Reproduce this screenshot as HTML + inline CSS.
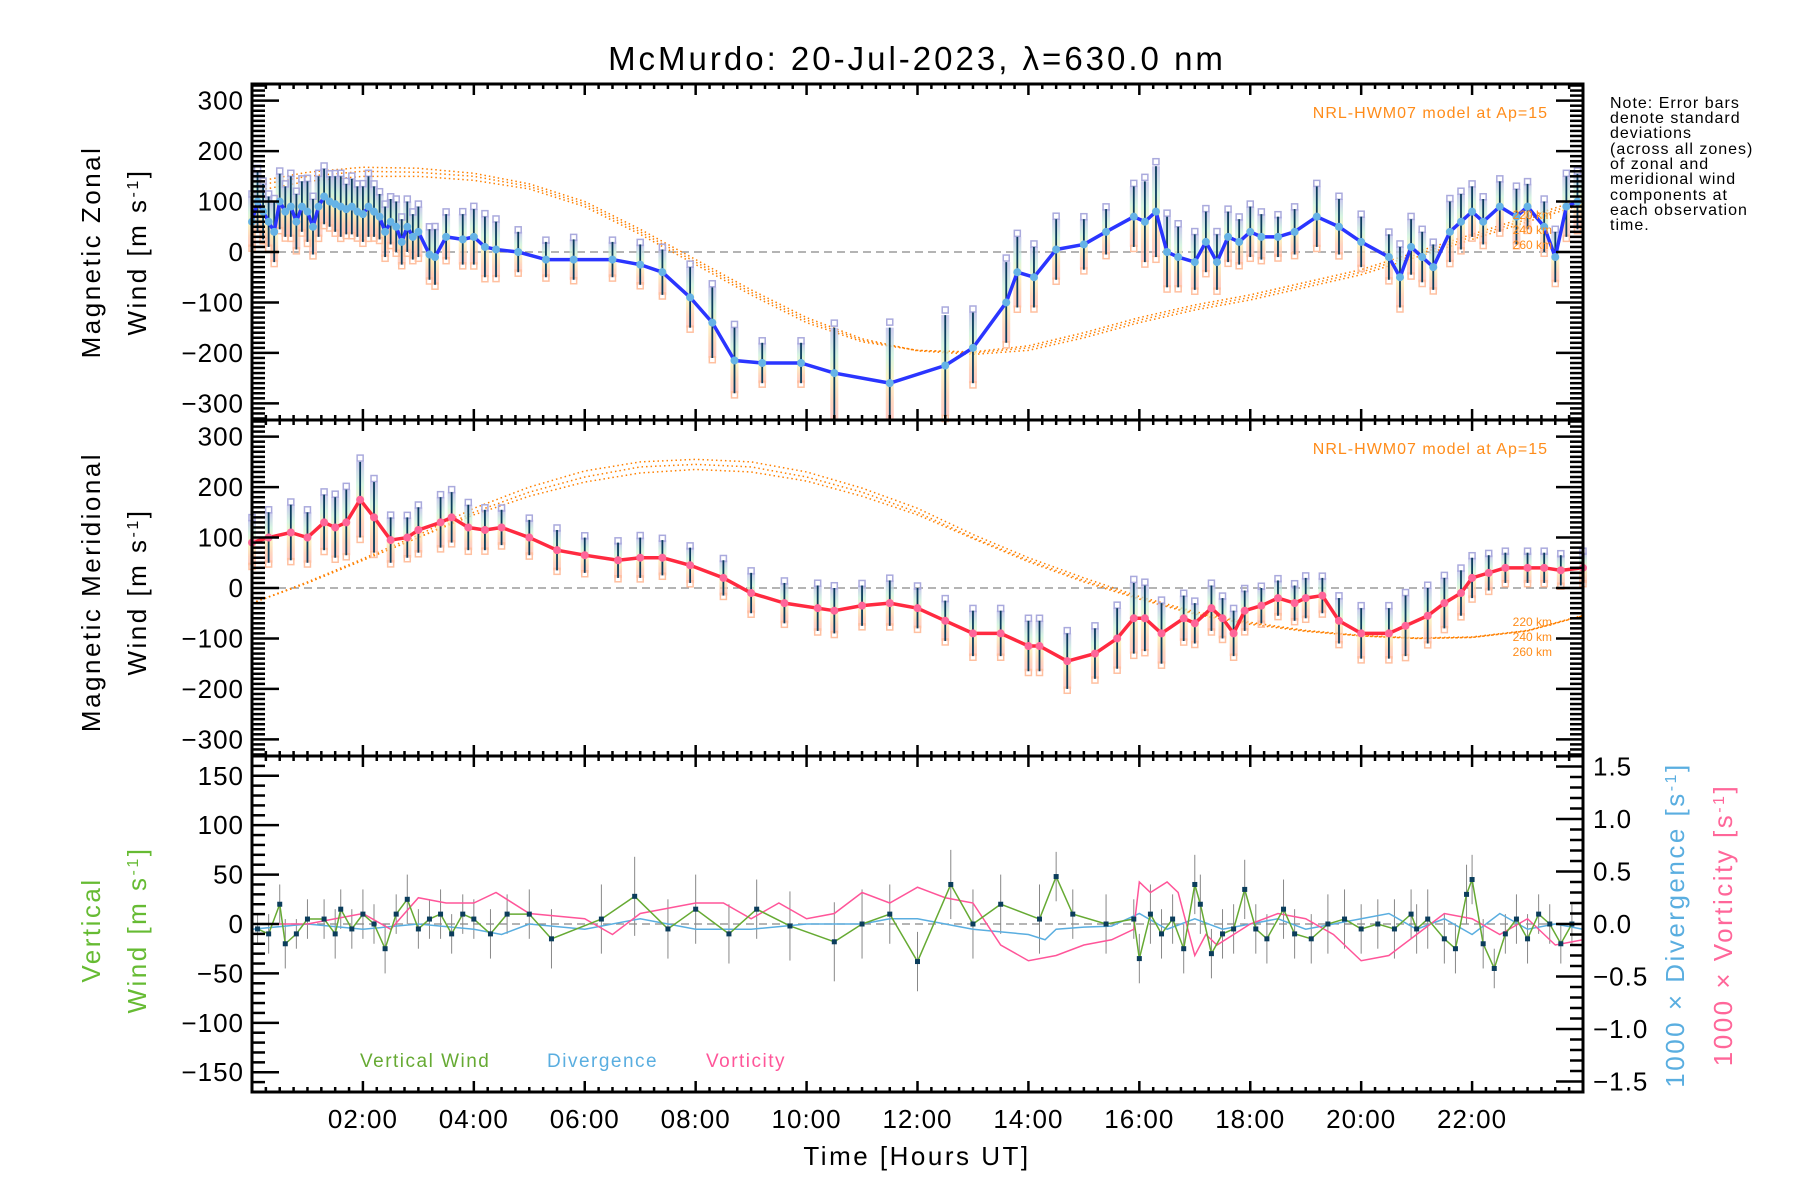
<!DOCTYPE html>
<html><head><meta charset="utf-8"><title>McMurdo winds</title>
<style>
html,body{margin:0;padding:0;background:#fff;}
svg{display:block;font-family:"Liberation Sans","DejaVu Sans",sans-serif;}
</style></head>
<body>
<svg id="chart" width="1800" height="1200" viewBox="0 0 1800 1200" xmlns="http://www.w3.org/2000/svg">
<defs>
<linearGradient id="rainbow" x1="0" y1="0" x2="0" y2="1">
<stop offset="0" stop-color="#b8b8e8"/><stop offset="0.3" stop-color="#c8f0d8"/><stop offset="0.55" stop-color="#f8f0b0"/><stop offset="0.8" stop-color="#ffc8a8"/><stop offset="1" stop-color="#ffb8b0"/>
</linearGradient>
</defs>
<text x="917" y="70" font-size="33" letter-spacing="3" text-anchor="middle">McMurdo: 20-Jul-2023, λ=630.0 nm</text>
<g id="p1"></g>
<g id="p2"></g>
<g id="p3"></g>
<g id="axes"></g>
<g font-size="26" letter-spacing="2.5" text-anchor="middle">
<text transform="translate(100,252) rotate(-90)">Magnetic Zonal</text>
<text transform="translate(146,252) rotate(-90)">Wind [m s<tspan baseline-shift="super" font-size="16">-1</tspan>]</text>
<text transform="translate(100,592) rotate(-90)">Magnetic Meridional</text>
<text transform="translate(146,592) rotate(-90)">Wind [m s<tspan baseline-shift="super" font-size="16">-1</tspan>]</text>
<text transform="translate(100,930) rotate(-90)" fill="#66bb33">Vertical</text>
<text transform="translate(146,930) rotate(-90)" fill="#66bb33">Wind [m s<tspan baseline-shift="super" font-size="16">-1</tspan>]</text>
<text transform="translate(1684,925) rotate(-90)" fill="#5aaee0">1000 × Divergence [s<tspan baseline-shift="super" font-size="16">-1</tspan>]</text>
<text transform="translate(1732,925) rotate(-90)" fill="#ff6699">1000 × Vorticity [s<tspan baseline-shift="super" font-size="16">-1</tspan>]</text>
<text x="917" y="1165">Time [Hours UT]</text>
</g>
<g font-size="16" letter-spacing="1">
<text x="1610" y="108">Note: Error bars</text>
<text x="1610" y="123">denote standard</text>
<text x="1610" y="138">deviations</text>
<text x="1610" y="154">(across all zones)</text>
<text x="1610" y="169">of zonal and</text>
<text x="1610" y="184">meridional wind</text>
<text x="1610" y="200">components at</text>
<text x="1610" y="215">each observation</text>
<text x="1610" y="230">time.</text>
</g>
<text x="1548" y="118" font-size="16" letter-spacing="1" fill="#ff8c1a" text-anchor="end">NRL-HWM07 model at Ap=15</text>
<text x="1548" y="454" font-size="16" letter-spacing="1" fill="#ff8c1a" text-anchor="end">NRL-HWM07 model at Ap=15</text>
<g font-size="12" fill="#ff8c1a" text-anchor="end">
<text x="1552" y="626">220 km</text><text x="1552" y="641">240 km</text><text x="1552" y="656">260 km</text>
<text x="1552" y="219">220 km</text><text x="1552" y="234">240 km</text><text x="1552" y="249">260 km</text>
</g>
<g font-size="19" letter-spacing="1.5">
<text x="360" y="1067" fill="#66aa33">Vertical Wind</text>
<text x="547" y="1067" fill="#5aaee0">Divergence</text>
<text x="706" y="1067" fill="#ff5599">Vorticity</text>
</g>
</svg>
<script>
// ---- data ----
const zonalHours=[0,0.1,0.2,0.3,0.4,0.5,0.6,0.7,0.8,0.9,1.0,1.1,1.2,1.3,1.4,1.5,1.6,1.7,1.8,1.9,2.0,2.1,2.2,2.3,2.4,2.5,2.6,2.7,2.8,2.9,3.0,3.2,3.3,3.5,3.8,4.0,4.2,4.4,4.8,5.3,5.8,6.5,7.0,7.4,7.9,8.3,8.7,9.2,9.9,10.5,11.5,12.5,13.0,13.6,13.8,14.1,14.5,15.0,15.4,15.9,16.1,16.3,16.5,16.7,17.0,17.2,17.4,17.6,17.8,18.0,18.2,18.5,18.8,19.2,19.6,20.0,20.5,20.7,20.9,21.1,21.3,21.6,21.8,22.0,22.2,22.5,22.8,23.0,23.3,23.5,23.7,23.9];
const zonalWind=[60,100,80,60,40,100,80,90,60,90,80,50,90,110,100,95,90,85,90,80,75,90,80,70,40,60,50,20,50,30,40,-5,-10,30,25,30,10,5,0,-15,-15,-15,-25,-40,-90,-140,-215,-220,-220,-240,-260,-225,-190,-100,-40,-50,5,15,40,70,60,80,0,-10,-20,20,-20,30,20,40,30,30,40,70,50,20,-10,-50,10,-10,-30,40,60,80,60,90,70,90,50,-10,90,100];
const zonalErr=[50,60,55,50,60,55,50,60,55,50,60,55,60,55,50,55,60,50,55,50,55,60,50,45,50,45,50,45,50,45,50,50,55,45,50,55,60,55,40,35,40,35,40,45,60,70,65,40,40,90,110,100,70,80,70,60,60,50,45,60,80,90,70,60,55,60,55,50,45,50,45,40,45,60,55,50,45,60,55,50,45,60,55,50,45,50,55,45,50,50,60,55];
const meridHours=[0,0.3,0.7,1.0,1.3,1.5,1.7,1.95,2.2,2.5,2.8,3.0,3.4,3.6,3.9,4.2,4.5,5.0,5.5,6.0,6.6,7.0,7.4,7.9,8.5,9.0,9.6,10.2,10.5,11.0,11.5,12.0,12.5,13.0,13.5,14.0,14.2,14.7,15.2,15.6,15.9,16.1,16.4,16.8,17.0,17.3,17.5,17.7,17.9,18.2,18.5,18.8,19.0,19.3,19.6,20.0,20.5,20.8,21.2,21.5,21.8,22.0,22.3,22.6,23.0,23.3,23.6,24.0];
const meridWind=[90,100,110,100,130,120,130,175,140,95,100,115,130,140,120,115,120,100,75,65,55,60,60,45,20,-10,-30,-40,-45,-35,-30,-40,-65,-90,-90,-115,-115,-145,-130,-100,-60,-60,-90,-60,-70,-40,-60,-90,-45,-35,-20,-30,-20,-15,-65,-90,-90,-75,-55,-30,-10,20,30,40,40,40,35,40];
const meridErr=[45,50,55,50,55,60,65,75,70,45,40,45,50,50,45,40,35,35,40,35,35,40,35,35,35,40,40,45,45,40,45,40,40,45,45,50,50,55,50,60,70,65,60,45,40,45,40,45,40,35,35,35,40,35,45,50,50,60,55,50,45,40,35,30,30,30,30,30];
const modelHours=[0,1,2,3,4,5,6,7,8,9,10,11,12,13,14,15,16,17,18,19,20,21,22,23,24];
const zonalModel220=[120,140,150,150,142,125,90,35,-25,-85,-140,-178,-195,-198,-186,-160,-130,-105,-85,-60,-35,0,35,70,105];
const zonalModel240=[130,150,160,158,150,130,95,40,-20,-80,-135,-175,-195,-200,-190,-165,-135,-110,-90,-65,-40,-5,30,65,100];
const zonalModel260=[138,158,168,166,156,135,100,45,-15,-75,-130,-172,-196,-203,-195,-170,-140,-115,-95,-70,-45,-10,25,60,95];
const meridModel220=[-30,10,55,100,145,182,210,228,235,230,212,182,145,98,52,12,-22,-52,-72,-86,-95,-100,-98,-85,-55];
const meridModel240=[-30,10,55,100,150,190,220,240,245,240,220,190,150,100,55,15,-20,-50,-70,-85,-95,-100,-98,-85,-55];
const meridModel260=[-30,12,58,105,158,200,232,250,255,250,230,198,158,106,60,20,-17,-47,-68,-84,-94,-99,-97,-84,-54];
const vertHours=[0.1,0.3,0.5,0.6,0.8,1.0,1.3,1.5,1.6,1.8,2.0,2.2,2.4,2.6,2.8,3.0,3.2,3.4,3.6,3.8,4.0,4.3,4.6,5.0,5.4,6.3,6.9,7.5,8.0,8.6,9.1,9.7,10.5,11.0,11.5,12.0,12.6,13.0,13.5,14.2,14.5,14.8,15.4,15.9,16.0,16.2,16.4,16.6,16.8,17.0,17.1,17.3,17.5,17.7,17.9,18.1,18.3,18.6,18.8,19.1,19.4,19.7,20.0,20.3,20.6,20.9,21.0,21.2,21.5,21.7,21.9,22.0,22.2,22.4,22.6,22.8,23.0,23.2,23.4,23.6,23.8];
const vertWind=[-5,-10,20,-20,-10,5,5,-10,15,-5,10,0,-25,10,25,-5,5,10,-10,10,5,-10,10,10,-15,5,28,-5,15,-10,15,-2,-18,0,10,-38,40,0,20,5,48,10,0,5,-35,10,-10,5,-25,40,20,-30,-10,-5,35,-5,-15,15,-10,-15,0,5,-5,0,-5,10,-5,5,-15,-25,30,45,-20,-45,-10,5,-15,10,0,-20,0];
const vertErr=[15,20,20,25,15,20,20,25,20,20,25,20,25,20,25,20,20,25,20,20,20,25,20,25,30,35,40,30,35,30,30,35,40,35,30,30,35,35,30,35,25,25,30,20,25,30,25,25,25,30,30,25,25,25,30,25,25,30,25,25,30,30,25,25,30,25,25,30,25,25,30,25,25,20,20,25,25,20,20,20,20];
const divHours=[0,1,2,3,4,4.5,5,6,7,8,9,10,11,11.5,12,12.5,13,14,14.3,14.5,15,15.5,16,16.5,17,17.5,18,18.5,19,19.5,20,20.5,21,21.5,22,22.5,23,23.5,24];
const divergence=[-0.05,0.0,-0.05,0.0,-0.05,-0.1,0.0,-0.05,0.05,-0.05,-0.05,0.0,0.0,0.05,0.05,0.0,-0.05,-0.1,-0.15,-0.05,-0.03,-0.02,0.1,-0.05,0.05,-0.05,0.0,0.05,-0.05,0.0,0.05,0.1,-0.05,0.05,-0.1,0.1,-0.05,0.0,-0.05];
const vortHours=[0,1,1.5,2,2.5,3,3.5,4,4.4,5,6,6.5,7,8,8.5,9,9.5,10,10.5,11,11.5,12,12.5,13,13.5,14,14.5,15,15.5,15.9,16.0,16.2,16.5,16.7,17,17.2,17.4,18,18.5,19,19.5,20,20.5,21,21.5,22,22.5,23,23.5,24];
const vorticity=[0,0,0.05,0.1,-0.05,0.25,0.2,0.2,0.3,0.1,0.05,-0.1,0.1,0.2,0.2,0.05,0.2,0.05,0.1,0.3,0.2,0.35,0.25,0.2,-0.2,-0.35,-0.3,-0.2,-0.15,-0.05,0.4,0.3,0.4,0.3,-0.3,-0.1,-0.2,0,0.1,0.05,-0.1,-0.35,-0.3,-0.1,0.1,0.05,-0.1,0.05,-0.2,-0.15];
const windTicks=[300,200,100,0,-100,-200,-300];
const vertTicks=[150,100,50,0,-50,-100,-150];
const rightTicks=[1.5,1.0,0.5,0.0,-0.5,-1.0,-1.5];
const xTicks=['02:00','04:00','06:00','08:00','10:00','12:00','14:00','16:00','18:00','20:00','22:00'];

// ---- scales ----
const L=252,R=1583;
const panels=[{top:84,bot:420},{top:420,bot:756},{top:756,bot:1092}];
const xS=h=>L+(R-L)*h/24;
const yWind=(p,v)=>{const m=(p.top+p.bot)/2;return m-v*(p.bot-p.top)/2/333;};
const y1=v=>yWind(panels[0],v), y2=v=>yWind(panels[1],v);
const y3=v=>924-v*168/170;
const y3r=v=>924-v*168/1.6;
const NS='http://www.w3.org/2000/svg';
function mk(tag,attrs,parent){const e=document.createElementNS(NS,tag);for(const k in attrs)e.setAttribute(k,attrs[k]);parent.appendChild(e);return e;}
const g1=document.getElementById('p1'),g2=document.getElementById('p2'),g3=document.getElementById('p3'),ga=document.getElementById('axes');

function zero(g,y){const l=mk('line',{x1:L,x2:R,y1:y,y2:y,stroke:'#888','stroke-width':1.2,'stroke-dasharray':'8,5'},g);

}
zero(g1,y1(0));zero(g2,y2(0));zero(g3,y3(0));

function model(g,arr,yf,name){const pts=modelHours.map((h,i)=>xS(h)+','+yf(arr[i])).join(' ');
const p=mk('polyline',{points:pts,fill:'none',stroke:'#ff8000','stroke-width':1.5,'stroke-dasharray':'1.5,3'},g);

}

function windSeries(g,hours,vals,errs,yf,lineColor,dotColor,name){
  hours.forEach((h,i)=>{
    const yt=yf(Math.min(vals[i]+errs[i],333)),yb=yf(Math.max(vals[i]-errs[i],-333));
    const r=mk('rect',{x:xS(h)-4,y:yt,width:8,height:yb-yt,fill:'url(#rainbow)',opacity:0.75},g);
    
    
  });
  hours.forEach((h,i)=>{
    const v1=vals[i]+errs[i]*1.1,v2=vals[i]-errs[i]*1.05;
    if(v1<333){const s=mk('rect',{x:xS(h)-3,y:yf(v1)-3,width:6,height:6,fill:'none',stroke:'#aaaadd','stroke-width':1.5},g);
    
    }
    if(v2>-333){const s=mk('rect',{x:xS(h)-3,y:yf(v2)-3,width:6,height:6,fill:'none',stroke:'#ffc0a0','stroke-width':1.5},g);
    
    }
  });
  hours.forEach((h,i)=>{
    const e=mk('line',{x1:xS(h),x2:xS(h),y1:yf(Math.min(vals[i]+errs[i],333)),y2:yf(Math.max(vals[i]-errs[i],-333)),stroke:'#0b3d5c','stroke-width':1.8},g);
    
    
  });
  const pl=mk('polyline',{points:hours.map((h,i)=>xS(h)+','+yf(vals[i])).join(' '),fill:'none',stroke:lineColor,'stroke-width':3.5,'stroke-linejoin':'round'},g);
  
  
  hours.forEach((h,i)=>{
    const c=mk('circle',{cx:xS(h),cy:yf(vals[i]),r:4,fill:dotColor},g);
    
    
  });
}
model(g1,zonalModel220,y1,'zonal-model-220km');model(g1,zonalModel240,y1,'zonal-model-240km');model(g1,zonalModel260,y1,'zonal-model-260km');
windSeries(g1,zonalHours,zonalWind,zonalErr,y1,'#2a35ff','#66b3e6','zonal-wind-line');
model(g2,meridModel220,y2,'meridional-model-220km');model(g2,meridModel240,y2,'meridional-model-240km');model(g2,meridModel260,y2,'meridional-model-260km');
windSeries(g2,meridHours,meridWind,meridErr,y2,'#ff2a40','#ff6699','meridional-wind-line');

// panel 3
vertHours.forEach((h,i)=>{
  const e=mk('line',{x1:xS(h),x2:xS(h),y1:y3(vertWind[i]+vertErr[i]),y2:y3(vertWind[i]-vertErr[i]),stroke:'#888','stroke-width':1},g3);
  
  
});
const dv=mk('polyline',{points:divHours.map((h,i)=>xS(h)+','+y3r(divergence[i])).join(' '),fill:'none',stroke:'#5aaee0','stroke-width':1.5},g3);


const vo=mk('polyline',{points:vortHours.map((h,i)=>xS(h)+','+y3r(vorticity[i])).join(' '),fill:'none',stroke:'#ff5599','stroke-width':1.5},g3);


const vw=mk('polyline',{points:vertHours.map((h,i)=>xS(h)+','+y3(vertWind[i])).join(' '),fill:'none',stroke:'#66aa33','stroke-width':1.5},g3);


vertHours.forEach((h,i)=>{
  const c=mk('rect',{x:xS(h)-2.5,y:y3(vertWind[i])-2.5,width:5,height:5,fill:'#0b3d5c'},g3);
  
  
});

// axes
panels.forEach(p=>{
  const b=mk('rect',{x:L,y:p.top,width:R-L,height:p.bot-p.top,fill:'none',stroke:'#000','stroke-width':3},ga);
  
  
  for(let m=0;m<=24*4;m++){const h=m/4,x=xS(h),len=(m%8===0)?11:5;
    mk('line',{x1:x,x2:x,y1:p.top,y2:p.top+len,stroke:'#000','stroke-width':2.5},ga);
    mk('line',{x1:x,x2:x,y1:p.bot,y2:p.bot-len,stroke:'#000','stroke-width':2.5},ga);}
});
function yAxis(p,yf,min,max,minor,major,labels,side){
  const steps=Math.round((max-min)/minor);
  for(let i=0;i<=steps;i++){const v=min+i*minor,y=yf(v);if(y<p.top-1||y>p.bot+1)continue;
    const isMaj=Math.abs(v/major-Math.round(v/major))<1e-6,len=isMaj?27:13;
    if(side!=='right'){mk('line',{x1:L,x2:L+len,y1:y,y2:y,stroke:'#000','stroke-width':2.5},ga);}
    if(side!=='left'){mk('line',{x1:R,x2:R-len,y1:y,y2:y,stroke:'#000','stroke-width':2.5},ga);}
  }
  labels.forEach(t=>{const y=yf(t.v);
    const tx=mk('text',{x:side==='right'?R+10:L-8,y:y+9,'font-size':26,'letter-spacing':1,'text-anchor':side==='right'?'start':'end'},ga);
    tx.textContent=t.s;
    
    });
}
const lbl=v=>v<0?'\u2212'+Math.abs(v):String(v);
yAxis(panels[0],y1,-330,330,10,100,windTicks.map(v=>({v,s:lbl(v)})),'both');
yAxis(panels[1],y2,-330,330,10,100,windTicks.map(v=>({v,s:lbl(v)})),'both');
yAxis(panels[2],y3,-170,170,10,50,vertTicks.map(v=>({v,s:lbl(v)})),'left');
yAxis(panels[2],y3r,-1.6,1.6,0.1,0.5,rightTicks.map(v=>({v,s:(v<0?'\u2212':'')+Math.abs(v).toFixed(1)})),'right');
xTicks.forEach((s,i)=>{const t=mk('text',{x:xS((i+1)*2),y:1128,'font-size':26,'letter-spacing':1,'text-anchor':'middle'},ga);t.textContent=s;
  
  });
</script>
</body></html>
